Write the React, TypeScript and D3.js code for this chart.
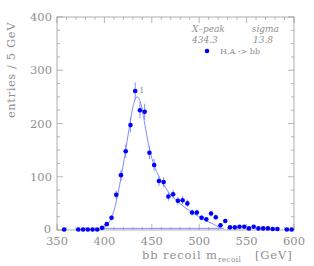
import React from 'react'
import * as d3 from 'd3'

// measured spectrum: bin centres (GeV) and entries per 5 GeV
const massBins = [
  357.5, 372.5, 377.5, 382.5, 387.5, 392.5, 397.5, 402.5, 407.5, 412.5,
  417.5, 422.5, 427.5, 432.5, 437.5, 442.5, 447.5, 452.5, 457.5, 462.5,
  467.5, 472.5, 477.5, 482.5, 487.5, 492.5, 497.5, 502.5, 507.5, 512.5,
  517.5, 522.5, 527.5, 532.5, 537.5, 542.5, 547.5, 552.5, 557.5, 562.5,
  567.5, 572.5, 577.5, 582.5, 592.5, 597.5,
]
const entries = [
  1, 1, 1, 1, 1, 1, 4, 11, 23, 66,
  103, 148, 197, 261, 225, 222, 145, 122, 92, 90,
  63, 67, 55, 56, 50, 33, 33, 23, 20, 31,
  24, 9, 17, 5, 5, 6, 6, 3, 6, 3,
  3, 3, 2, 2, 1, 1,
]

// fitted curve
const fitMass = [
  398, 402, 406, 410, 414, 418, 422, 426, 430, 433, 435, 438, 441, 445,
  450, 455, 460, 465, 470, 475, 480, 485, 490, 495, 500, 505, 510, 515, 520, 524,
]
const fitValue = [
  3, 8, 18, 36, 66, 103, 145, 190, 230, 248, 250, 240, 215, 175,
  135, 110, 92, 78, 66, 57, 49, 42, 36, 30, 25, 20, 15, 11, 6, 3,
]
// flat background component
const bgMass = [398, 526]
const bgValue = [3, 3]

const xTicks = [350, 400, 450, 500, 550, 600]
const yTicks = [0, 100, 200, 300, 400]
const peakLabel = { mass: 432.5, text: '1' }
const fitResult = { peak: '434.3', sigma: '13.8' }

export default function App() {
  const width = 314
  const height = 266
  const margin = { top: 17, right: 20, bottom: 36, left: 57 }
  const innerW = width - margin.left - margin.right
  const innerH = height - margin.top - margin.bottom

  const x = d3.scaleLinear().domain([350, 600]).range([0, innerW])
  const y = d3.scaleLinear().domain([0, 400]).range([innerH, 0])

  const axisColor = '#9a9a9a'
  const textColor = '#8f8f8f'
  const lineColor = '#7080ff'
  const serif = '"DejaVu Serif", "Liberation Serif", serif'

  const line = d3.line<[number, number]>()
    .x(d => x(d[0]))
    .y(d => y(d[1]))
    .curve(d3.curveCatmullRom)

  const fitPath = line(fitMass.map((m, i) => [m, fitValue[i]] as [number, number])) || ''
  const bgPath = d3.line<[number, number]>().x(d => x(d[0])).y(d => y(d[1]))(
    bgMass.map((m, i) => [m, bgValue[i]] as [number, number])
  ) || ''

  const xMinor = d3.range(350, 601, 10)
  const yMinor = d3.range(0, 401, 25)

  const peakIdx = massBins.indexOf(peakLabel.mass)

  return (
    <svg width={width} height={height} style={{ position: 'absolute', left: 0, top: 0, background: '#fff' }}>
      <g transform={`translate(${margin.left},${margin.top})`}>
        {/* frame */}
        <rect x={0} y={0} width={innerW} height={innerH} fill="none" stroke={axisColor} strokeWidth={0.8} />

        {/* ticks, all pointing inward */}
        {xMinor.map(v => {
          const major = v % 50 === 0
          const len = major ? 6 : 3
          return (
            <g key={'xt' + v} stroke={axisColor} strokeWidth={0.7}>
              <line x1={x(v)} x2={x(v)} y1={innerH} y2={innerH - len} />
              <line x1={x(v)} x2={x(v)} y1={0} y2={len} />
            </g>
          )
        })}
        {yMinor.map(v => {
          const major = v % 100 === 0
          const len = major ? 6 : 3
          return (
            <g key={'yt' + v} stroke={axisColor} strokeWidth={0.7}>
              <line x1={0} x2={len} y1={y(v)} y2={y(v)} />
              <line x1={innerW} x2={innerW - len} y1={y(v)} y2={y(v)} />
            </g>
          )
        })}

        {/* tick labels */}
        {xTicks.map(v => (
          <text key={'xl' + v} x={x(v)} y={innerH + 15} textAnchor="middle"
            fontFamily={serif} fontSize={11.5} fill={textColor}>{v}</text>
        ))}
        {yTicks.map(v => (
          <text key={'yl' + v} x={v === 0 ? -6 : -5} y={y(v) + (v === 0 ? 2.5 : 4)} textAnchor="end"
            fontFamily={serif} fontSize={11.5} fill={textColor}>{v}</text>
        ))}

        {/* background + fit */}
        <path d={bgPath} fill="none" stroke={lineColor} strokeWidth={0.9} />
        <path d={fitPath} fill="none" stroke={lineColor} strokeWidth={0.9} />

        {/* error bars */}
        {massBins.map((m, i) => {
          const e = Math.sqrt(entries[i])
          return (
            <line key={'e' + i} x1={x(m)} x2={x(m)}
              y1={y(entries[i] - e)} y2={y(entries[i] + e)}
              stroke={lineColor} strokeWidth={0.9} />
          )
        })}

        {/* data points */}
        {massBins.map((m, i) => (
          <circle key={'p' + i} cx={x(m)} cy={y(entries[i])} r={2.3} fill="#0000ff" />
        ))}

        {peakIdx >= 0 && (
          <text x={x(peakLabel.mass) + 4} y={y(entries[peakIdx]) + 2}
            fontFamily={serif} fontSize={8} fill={textColor}>{peakLabel.text}</text>
        )}

        {/* fit results + legend */}
        <g fontFamily={serif} fontSize={9} fill={textColor} fontStyle="italic">
          <text x={135} y={15}>X–peak</text>
          <text x={222} y={15} textAnchor="end">sigma</text>
          <text x={135} y={26}>{fitResult.peak}</text>
          <text x={216} y={26} textAnchor="end">{fitResult.sigma}</text>
        </g>
        <circle cx={150} cy={34} r={2.3} fill="#0000ff" />
        <text x={163} y={37} fontFamily={serif} fontSize={8} fill={textColor}>H,A -&gt; bb</text>
      </g>

      {/* axis titles */}
      <text x={142} y={259} fontFamily={serif} fontSize={11.5} fill={textColor} letterSpacing={0.9}>
        bb recoil m
        <tspan fontSize={7.5} dy={3} letterSpacing={0.3}>recoil</tspan>
        <tspan dy={-3}>{'\u00a0\u00a0\u00a0[GeV]'}</tspan>
      </text>
      <text transform="rotate(-90)" x={-70} y={15} textAnchor="middle"
        fontFamily={serif} fontSize={11.5} fill={textColor} letterSpacing={0.6}>
        entries / 5 GeV
      </text>
    </svg>
  )
}
